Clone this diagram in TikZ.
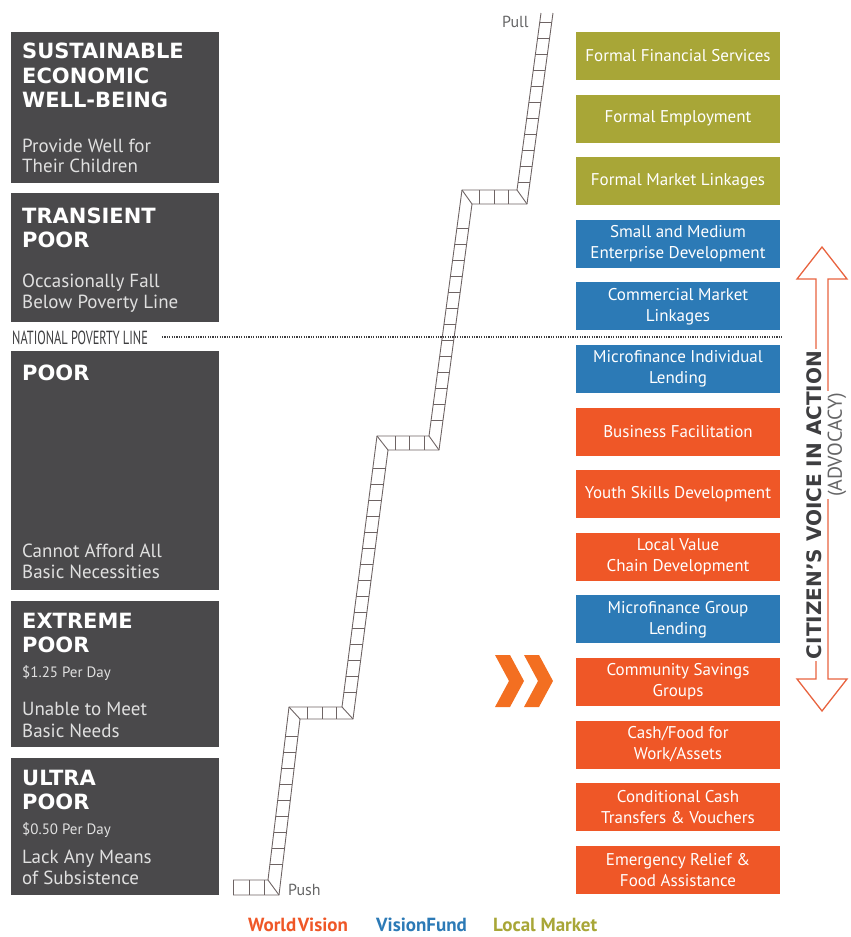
\documentclass[tikz,border=0pt]{standalone}
\usepackage{fontspec}
\setmainfont{PT Sans}
\newfontfamily\headfont{DejaVu Sans}
\newfontfamily\condfont{PT Sans}[FakeStretch=0.65]
\usetikzlibrary{calc}

\definecolor{boxgray}{HTML}{4A494B}
\definecolor{lmgreen}{HTML}{A8A637}
\definecolor{vfblue}{HTML}{2C7AB6}
\definecolor{wvorange}{HTML}{EF5727}
\definecolor{chevorange}{HTML}{F36F21}
\definecolor{laddercol}{HTML}{6E6464}
\definecolor{arrowred}{HTML}{E8633F}
\definecolor{inkgray}{HTML}{3E3E40}

\tikzset{
  lbox/.style={fill=boxgray, minimum width=208pt, inner sep=0pt, anchor=north west},
  head/.style={anchor=base west, inner sep=0pt, text=white,
    font=\headfont\bfseries\fontsize{21}{24}\selectfont},
  sub/.style={anchor=base west, inner sep=0pt, text=white!88!black,
    font=\fontsize{19}{21}\selectfont},
  price/.style={anchor=base west, inner sep=0pt, text=white!88!black,
    font=\fontsize{15}{17}\selectfont},
  rbox/.style={minimum width=204pt, minimum height=48pt, inner sep=0pt,
    align=center, text=white, font=\fontsize{17}{21}\selectfont},
  rail/.style={draw=laddercol, line width=0.9pt},
  legend/.style={anchor=base west, inner sep=0pt, font=\bfseries\fontsize{19}{21}\selectfont},
  small/.style={anchor=base west, inner sep=0pt, text=inkgray!80, font=\fontsize{16}{18}\selectfont}
}

\begin{document}
\begin{tikzpicture}[x=1pt, y=-1pt]
  \useasboundingbox (0,0) rectangle (851,937);

  % left column: levels
  \node[lbox, minimum height=151pt] (sew) at (11,32) {};
  \node[lbox, minimum height=129pt] (trans) at (11,193) {};
  \node[lbox, minimum height=239pt] (poor) at (11,351) {};
  \node[lbox, minimum height=146pt] (extr) at (11,601) {};
  \node[lbox, minimum height=137pt] (ultra) at (11,758) {};

  \node[head] (h1a) at (22,58) {SUSTAINABLE};
  \node[head] (h1b) at (22,83) {ECONOMIC};
  \node[head] (h1c) at (22,107) {WELL-BEING};
  \node[sub] (s1a) at (22,152) {Provide Well for};
  \node[sub] (s1b) at (22,172) {Their Children};

  \node[head] (h2a) at (22,223) {TRANSIENT};
  \node[head] (h2b) at (22,247) {POOR};
  \node[sub] (s2a) at (22,287) {Occasionally Fall};
  \node[sub] (s2b) at (22,308) {Below Poverty Line};

  \node[head] (h3a) at (22,380) {POOR};
  \node[sub] (s3a) at (22,557) {Cannot Afford All};
  \node[sub] (s3b) at (22,578) {Basic Necessities};

  \node[head] (h4a) at (22,628) {EXTREME};
  \node[head] (h4b) at (22,652) {POOR};
  \node[price] (p4) at (22,677) {\$1.25 Per Day};
  \node[sub] (s4a) at (22,715) {Unable to Meet};
  \node[sub] (s4b) at (22,737) {Basic Needs};

  \node[head] (h5a) at (22,785) {ULTRA};
  \node[head] (h5b) at (22,809) {POOR};
  \node[price] (p5) at (22,834) {\$0.50 Per Day};
  \node[sub] (s5a) at (22,863) {Lack Any Means};
  \node[sub] (s5b) at (22,884) {of Subsistence};

  % ladder
  \coordinate (L0) at (233,880); \coordinate (R0) at (233,895);
  \coordinate (L1) at (268,880); \coordinate (R1) at (279,895);
  \coordinate (L2) at (289,707); \coordinate (R2) at (300,719);
  \coordinate (L3) at (342,707); \coordinate (R3) at (353,719);
  \coordinate (L4) at (377,436); \coordinate (R4) at (388,450);
  \coordinate (L5) at (429,436); \coordinate (R5) at (439,450);
  \coordinate (L6) at (462,190); \coordinate (R6) at (472,204);
  \coordinate (L7) at (517,190); \coordinate (R7) at (527,204);
  \coordinate (L8) at (541,13);  \coordinate (R8) at (553,13);

  \draw[rail] (L0) -- (L1) -- (L2) -- (L3) -- (L4) -- (L5) -- (L6) -- (L7) -- (L8);
  \draw[rail] (R0) -- (R1) -- (R2) -- (R3) -- (R4) -- (R5) -- (R6) -- (R7) -- (R8);
  \draw[rail] (L0) -- (R0);
  \foreach \i in {1,...,7}
    \draw[rail] (L\i) -- (R\i);

  \begin{scope}
    \clip (L1) -- (L2) -- (R2) -- (R1) -- cycle;
    \foreach \y in {736,752,...,864} \draw[rail] (200,\y) -- (600,\y);
  \end{scope}
  \begin{scope}
    \clip (L3) -- (L4) -- (R4) -- (R3) -- cycle;
    \foreach \y in {468,484,...,692} \draw[rail] (200,\y) -- (600,\y);
  \end{scope}
  \begin{scope}
    \clip (L5) -- (L6) -- (R6) -- (R5) -- cycle;
    \foreach \y in {228,244,...,420} \draw[rail] (200,\y) -- (600,\y);
  \end{scope}
  \begin{scope}
    \clip (L7) -- (L8) -- (R8) -- (R7) -- cycle;
    \foreach \y in {22,38,...,182} \draw[rail] (400,\y) -- (700,\y);
  \end{scope}
  \foreach \x in {249,264} \draw[rail] (\x,880) -- (\x,895);
  \foreach \x in {307,322,336} \draw[rail] (\x,707) -- (\x,719);
  \foreach \x in {395,409,424} \draw[rail] (\x,436) -- (\x,450);
  \foreach \x in {479,494,508} \draw[rail] (\x,190) -- (\x,204);

  \node[small] (pull) at (502,27) {Pull};
  \node[small] (push) at (288,895) {Push};

  % poverty line
  \node[anchor=base west, inner sep=0pt, text=inkgray, font=\condfont\fontsize{19}{19}\selectfont]
    (npl) at (12,344) {NATIONAL POVERTY LINE};
  \coordinate (pl0) at (162,337);
  \coordinate (pl1) at (782,337);
  \draw[inkgray, line width=1.8pt, dash pattern=on 1.2pt off 1.2pt] (pl0) -- (pl1);

  % right column: interventions
  \foreach \t/\c [count=\i from 0] in {
      Formal Financial Services/lmgreen,
      Formal Employment/lmgreen,
      Formal Market Linkages/lmgreen,
      Small and Medium\\Enterprise Development/vfblue,
      Commercial Market\\Linkages/vfblue,
      Microfinance Individual\\Lending/vfblue,
      Business Facilitation/wvorange,
      Youth Skills Development/wvorange,
      Local Value\\Chain Development/wvorange,
      Microfinance Group\\Lending/vfblue,
      Community Savings\\Groups/wvorange,
      {Cash/Food for\\Work/Assets}/wvorange,
      Conditional Cash\\Transfers \& Vouchers/wvorange,
      Emergency Relief \&\\Food Assistance/wvorange}
    \node[rbox, fill=\c] (act\i) at (678,{56+62.6*\i}) {\t};

  % chevrons
  \foreach \dx in {0,29}
    \fill[chevorange, xshift=\dx] (495,655) -- (510,655) -- (524,681) -- (510,707)
      -- (495,707) -- (509,681) -- cycle;

  % advocacy arrow
  \draw[arrowred, line width=1.3pt, line join=miter]
    (822,247) -- (847,279) -- (828,279) -- (828,679) -- (847,679) -- (822,711)
    -- (797,679) -- (816,679) -- (816,279) -- (797,279) -- cycle;
  \node[rotate=90, fill=white, inner sep=2pt, text=inkgray,
    font=\headfont\bfseries\fontsize{20}{20}\selectfont] (voice) at (814,505)
    {CITIZEN’S VOICE IN ACTION};
  \node[rotate=90, fill=white, inner sep=2pt, text=inkgray!80,
    font=\fontsize{20}{20}\selectfont] (advo) at (837,445) {(ADVOCACY)};

  % legend
  \node[legend, text=wvorange] (lwv) at (248,931) {World\kern1.5pt Vision};
  \node[legend, text=vfblue] (lvf) at (376,931) {VisionFund};
  \node[legend, text=lmgreen] (llm) at (493,931) {Local Market};
\end{tikzpicture}
\end{document}
